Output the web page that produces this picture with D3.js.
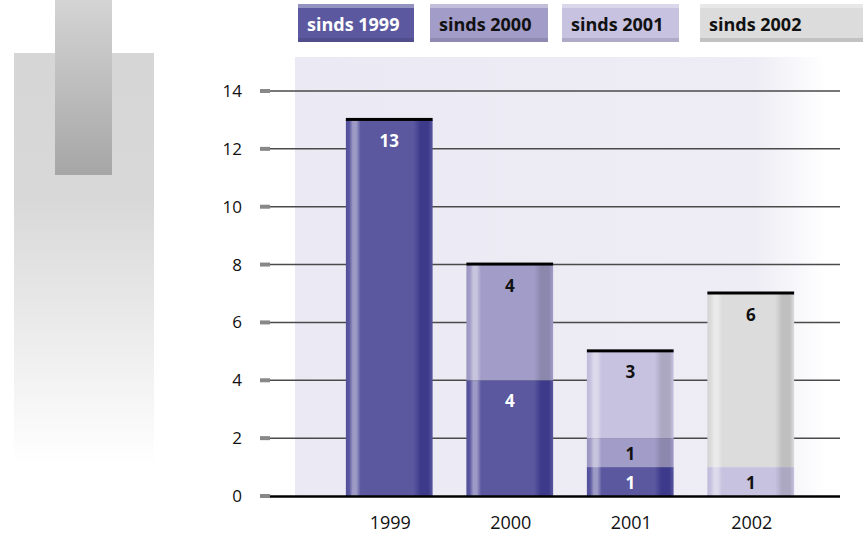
<!DOCTYPE html>
<html><head><meta charset="utf-8">
<script src="https://cdn.jsdelivr.net/npm/d3@7"></script>
<style>body{margin:0;background:#fff;} svg{display:block;font-family:"Open Sans",sans-serif;}</style>
</head><body>
<svg id="c" width="863" height="557"></svg>
<script>
const categories = ["1999","2000","2001","2002"];
const seriesNames = ["sinds 1999","sinds 2000","sinds 2001","sinds 2002"];
const sinds1999 = [13,4,1,0];
const sinds2000 = [0,4,1,0];
const sinds2001 = [0,0,3,1];
const sinds2002 = [0,0,0,6];
const yTicks = [0,2,4,6,8,10,12,14];
const colors = ["#5b58a0","#a29cc8","#c6c2e0","#dcdcdc"];
const labelColors = ["#fff","#111","#111","#111"];

const svg = d3.select("#c");
const defs = svg.append("defs");

// left decoration gradients
const g1 = defs.append("linearGradient").attr("id","decoBig").attr("x1",0).attr("y1",0).attr("x2",0).attr("y2",1);
g1.append("stop").attr("offset","0%").attr("stop-color","#d6d6d6");
g1.append("stop").attr("offset","35%").attr("stop-color","#d8d8d8");
g1.append("stop").attr("offset","100%").attr("stop-color","#ffffff");
const g2 = defs.append("linearGradient").attr("id","decoSmall").attr("x1",0).attr("y1",0).attr("x2",0).attr("y2",1);
g2.append("stop").attr("offset","0%").attr("stop-color","#d4d4d4");
g2.append("stop").attr("offset","100%").attr("stop-color","#a6a6a6");
const g3 = defs.append("linearGradient").attr("id","plotBg").attr("x1",0).attr("y1",0).attr("x2",1).attr("y2",0);
g3.append("stop").attr("offset","0%").attr("stop-color","#ebe9f3");
g3.append("stop").attr("offset","84%").attr("stop-color","#eeedf5");
g3.append("stop").attr("offset","97%").attr("stop-color","#ffffff");
g3.append("stop").attr("offset","100%").attr("stop-color","#ffffff");

svg.append("rect").attr("x",14).attr("y",53).attr("width",140).attr("height",412).attr("fill","url(#decoBig)");
svg.append("rect").attr("x",55).attr("y",0).attr("width",57).attr("height",175).attr("fill","url(#decoSmall)");

// bar gradients per series
colors.forEach((c,i)=>{
  const base = d3.color(c);
  const light = d3.interpolateRgb(c,"#ffffff")(0.4);
  const dark = i===0 ? "#3d3a8c" : base.darker(0.4).formatHex();
  const g = defs.append("linearGradient").attr("id","bar"+i).attr("x1",0).attr("y1",0).attr("x2",1).attr("y2",0);
  [[0,d3.interpolateRgb(c,dark)(0.3)],[0.04,c],[0.08,light],[0.12,light],[0.17,c],[0.78,c],[0.86,dark],[0.95,dark],[1,c]]
    .forEach(([o,col])=>g.append("stop").attr("offset",(o*100)+"%").attr("stop-color",col));
});

const y = d3.scaleLinear().domain([0,14]).range([496,91]);
const x = d3.scaleBand().domain(categories).range([329,811]).paddingInner(0.28).paddingOuter(0.14);

// plot background
svg.append("rect").attr("x",295).attr("y",57).attr("width",548).attr("height",y(0)-57).attr("fill","url(#plotBg)");

// gridlines
svg.append("g").selectAll("line").data(yTicks.filter(d=>d>0)).join("line")
  .attr("x1",270).attr("x2",840).attr("y1",d=>y(d)).attr("y2",d=>y(d))
  .attr("stroke","#4a4a4a").attr("stroke-width",1.5);

// tick marks and labels
const yAxis = svg.append("g").attr("transform","translate(260,0)");
yAxis.selectAll("rect").data(yTicks).join("rect")
  .attr("x",0).attr("y",d=>y(d)-2).attr("width",10).attr("height",4).attr("fill","#888");
yAxis.selectAll("text").data(yTicks).join("text")
  .attr("x",-18).attr("y",d=>y(d)+6).attr("text-anchor","end")
  .attr("font-size",17).attr("fill","#111").text(d=>d);

// stacked data
const rows = categories.map((c,i)=>({cat:c, s0:sinds1999[i], s1:sinds2000[i], s2:sinds2001[i], s3:sinds2002[i]}));
const stack = d3.stack().keys(["s0","s1","s2","s3"])(rows);

const bars = svg.append("g");
stack.forEach((layer,si)=>{
  layer.forEach(d=>{
    const v = d[1]-d[0];
    if(v<=0) return;
    const x0 = x(d.data.cat), w = x.bandwidth();
    const top = y(d[1]), bot = y(d[0]);
    bars.append("rect").attr("x",x0).attr("y",top).attr("width",w).attr("height",bot-top).attr("fill","url(#bar"+si+")");
    const h = bot-top;
    bars.append("text").attr("x",x0+w/2).attr("y",top+Math.min(27,h/2+7))
      .attr("text-anchor","middle").attr("font-weight","bold").attr("font-size",17)
      .attr("fill",labelColors[si]).text(v);
  });
});
// top black line per bar
const totals = categories.map((c,i)=>sinds1999[i]+sinds2000[i]+sinds2001[i]+sinds2002[i]);
svg.append("g").selectAll("rect").data(categories).join("rect")
  .attr("x",d=>x(d)).attr("y",(d,i)=>y(totals[i])-2).attr("width",x.bandwidth()).attr("height",3).attr("fill","#000");

// zero line
svg.append("line").attr("x1",270).attr("x2",840).attr("y1",y(0)+0.5).attr("y2",y(0)+0.5).attr("stroke","#000").attr("stroke-width",2.5);

// x labels
svg.append("g").selectAll("text").data(categories).join("text")
  .attr("x",d=>x(d)+x.bandwidth()/2+1).attr("y",529).attr("text-anchor","middle")
  .attr("font-size",18).attr("fill","#111").text(d=>d);

// legend
const legX = [298,430,562,700], legW = [116,118,117,163];
const leg = svg.append("g");
seriesNames.forEach((n,i)=>{
  const c = colors[i];
  const lg = leg.append("g").attr("transform",`translate(${legX[i]},4)`);
  lg.append("rect").attr("width",legW[i]).attr("height",38).attr("fill",c);
  lg.append("rect").attr("width",legW[i]).attr("height",4).attr("fill",d3.interpolateRgb(c,"#ffffff")(0.35));
  lg.append("rect").attr("y",34).attr("width",legW[i]).attr("height",4).attr("fill",d3.color(c).darker(0.35).formatHex());
  lg.append("text").attr("x",9).attr("y",27).attr("font-weight","bold").attr("font-size",18)
    .attr("fill",labelColors[i]).text(n);
});
</script>
</body></html>
